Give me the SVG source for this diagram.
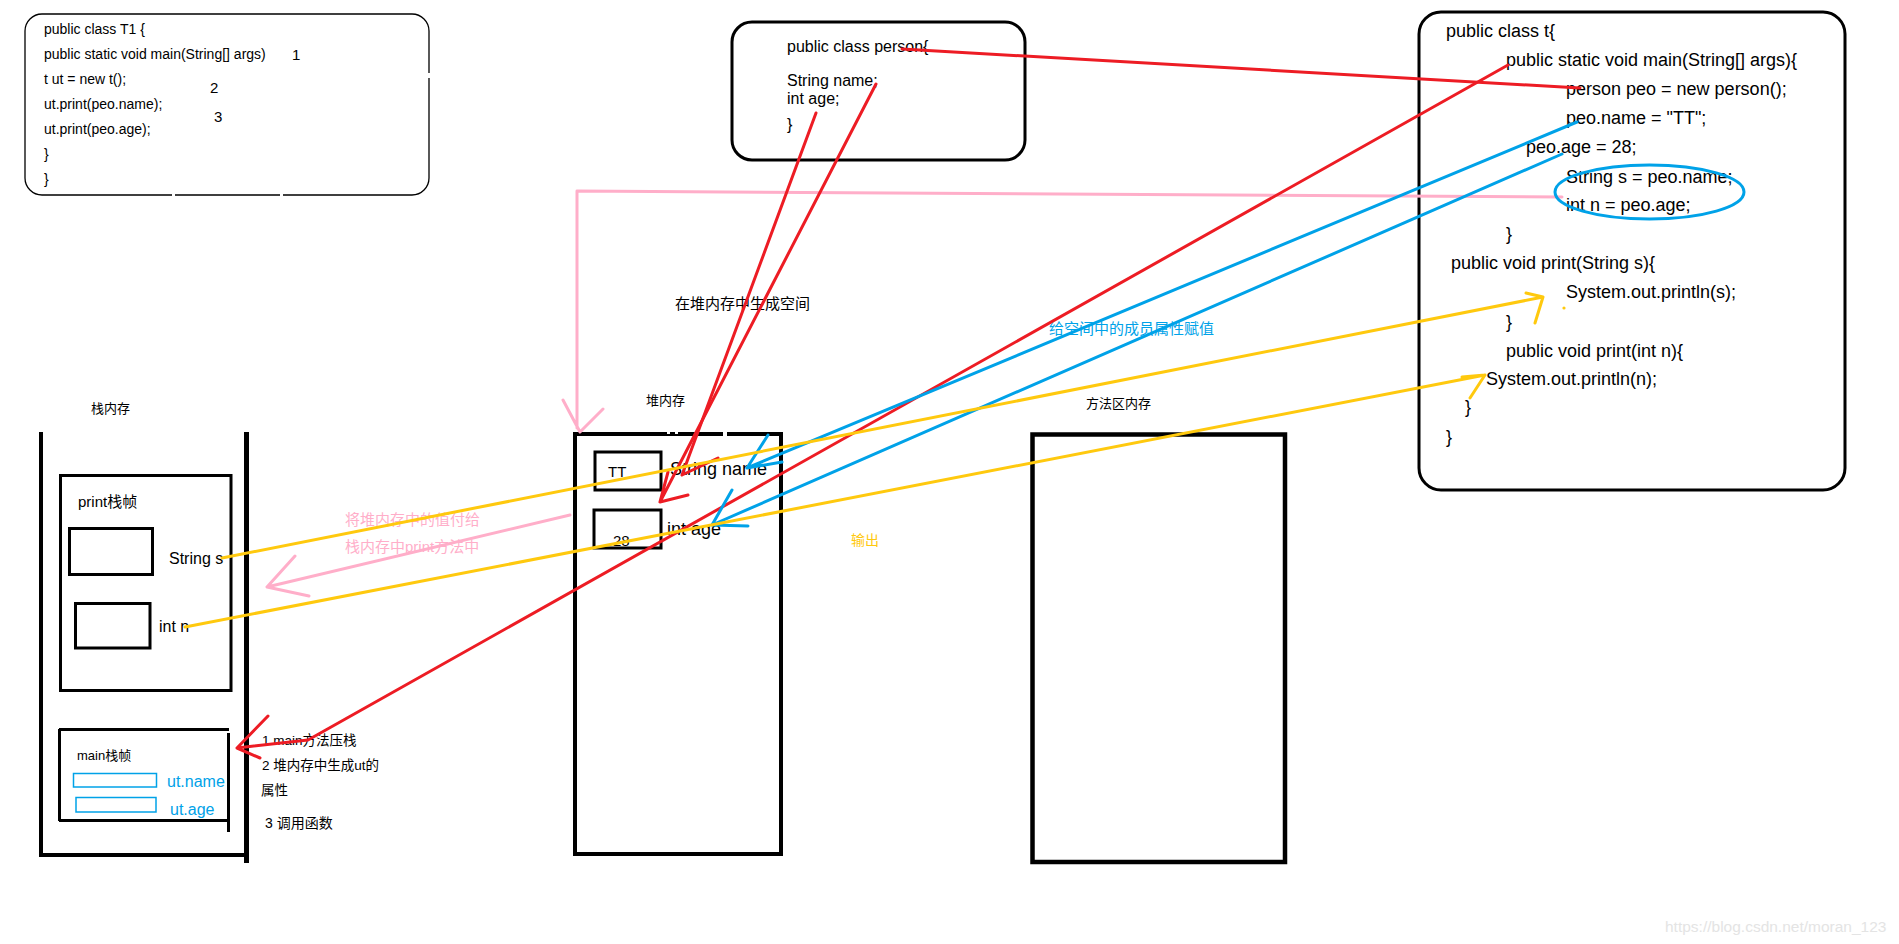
<svg xmlns="http://www.w3.org/2000/svg" width="1899" height="944" viewBox="0 0 1899 944">
<style>
.t{font-family:"Liberation Sans","Noto Sans CJK SC",sans-serif;fill:#000}
.box{fill:none;stroke:#000}
.gap{fill:#fff}
.red{fill:none;stroke:#ED1C24;stroke-width:3;stroke-linecap:round;stroke-linejoin:round}
.blue{fill:none;stroke:#00A2E8;stroke-width:3;stroke-linecap:round;stroke-linejoin:round}
.yel{fill:none;stroke:#FFC90E;stroke-width:3;stroke-linecap:round;stroke-linejoin:round}
.pink{fill:none;stroke:#FFAEC9;stroke-width:3;stroke-linecap:round;stroke-linejoin:round}
</style>
<rect width="1899" height="944" fill="#fff"/>

<g id="t1-code">
<rect class="box" x="25" y="14" width="404" height="181" rx="17" stroke-width="1.3"/>
<rect class="gap" x="172" y="192" width="3" height="6"/>
<rect class="gap" x="280" y="192" width="3" height="6"/>
<rect class="gap" x="426" y="73" width="6" height="5"/>
<g class="t" font-size="14">
<text x="44" y="34">public class T1 {</text>
<text x="44" y="59">public static void main(String[] args)</text>
<text x="44" y="84">t ut = new t();</text>
<text x="44" y="109">ut.print(peo.name);</text>
<text x="44" y="134">ut.print(peo.age);</text>
<text x="44" y="159">}</text>
<text x="44" y="184">}</text>
</g>
<g class="t" font-size="15">
<text x="292" y="60">1</text>
<text x="210" y="93">2</text>
<text x="214" y="122">3</text>
</g>
</g>

<g id="person-class">
<rect class="box" x="732" y="22" width="293" height="138" rx="20" stroke-width="3"/>
<g class="t" font-size="16">
<text x="787" y="52">public class person{</text>
<text x="787" y="86">String name;</text>
<text x="787" y="104">int age;</text>
<text x="787" y="130">}</text>
</g>
</g>

<g id="t-class">
<rect class="box" x="1419" y="12" width="426" height="478" rx="22" stroke-width="3"/>
<g class="t" font-size="18">
<text x="1446" y="37">public class t{</text>
<text x="1506" y="66">public static void main(String[] args){</text>
<text x="1566" y="95">person peo = new person();</text>
<text x="1566" y="124">peo.name = "TT";</text>
<text x="1526" y="153">peo.age = 28;</text>
<text x="1566" y="183">String s = peo.name;</text>
<text x="1566" y="211">int n = peo.age;</text>
<text x="1506" y="240">}</text>
<text x="1451" y="269">public void print(String s){</text>
<text x="1566" y="298">System.out.println(s);</text>
<text x="1506" y="328">}</text>
<text x="1506" y="357">public void print(int n){</text>
<text x="1486" y="385">System.out.println(n);</text>
<text x="1465" y="413">}</text>
<text x="1446" y="443">}</text>
</g>
</g>

<g id="stack">
<text class="t" x="91" y="413" font-size="13">栈内存</text>
<path class="box" stroke-width="4" d="M41,432 V857 M40,855 H249"/>
<path class="box" stroke-width="5" d="M246.5,432 V863"/>
<g id="print-frame">
<rect class="box" x="60.5" y="475.5" width="170.5" height="215" stroke-width="3"/>
<text class="t" x="78" y="507" font-size="15">print栈帧</text>
<rect class="box" x="69.5" y="528.5" width="83" height="46" stroke-width="3"/>
<text class="t" x="169" y="564" font-size="16">String s</text>
<rect class="box" x="75.5" y="603.5" width="74.5" height="44.5" stroke-width="3"/>
<text class="t" x="159" y="632" font-size="16">int n</text>
</g>
<g id="main-frame">
<text class="t" x="77" y="760" font-size="13">main栈帧</text>
<rect x="73.5" y="773.5" width="83" height="13.5" fill="none" stroke="#00A2E8" stroke-width="1.5"/>
<rect x="76" y="797.5" width="80" height="14.5" fill="none" stroke="#00A2E8" stroke-width="1.5"/>
<text x="167" y="787" font-size="16" fill="#00A2E8" font-family="Liberation Sans, sans-serif">ut.name</text>
<text x="170" y="815" font-size="16" fill="#00A2E8" font-family="Liberation Sans, sans-serif">ut.age</text>
<path class="box" stroke-width="3" d="M59,729.5 H229 M59.5,729 V821 M59,820.5 H229 M228.5,733 V832"/>
</g>
<g class="t" font-size="13.5">
<text x="262" y="745">1  main方法压栈</text>
<text x="262" y="770">2  堆内存中生成ut的</text>
<text x="261" y="795">属性</text>
<text x="265" y="828" font-size="14">3 调用函数</text>
</g>
</g>

<g id="heap">
<text class="t" x="646" y="405" font-size="13">堆内存</text>
<text class="t" x="608" y="477" font-size="15">TT</text>
<text class="t" x="670" y="475" font-size="18">String name</text>
<text class="t" x="613" y="546" font-size="15">28</text>
<text class="t" x="667" y="535" font-size="18">int age</text>
<rect class="box" x="575" y="434" width="206" height="420" stroke-width="4"/>
<rect class="gap" x="667" y="431" width="3" height="3"/>
<rect class="gap" x="675" y="431" width="3" height="3"/>
<rect class="gap" x="723" y="431" width="4" height="6"/>
<rect class="box" x="595" y="452" width="66" height="38" stroke-width="3"/>
<rect class="box" x="594" y="510" width="67" height="38" stroke-width="3"/>
</g>

<g id="method-area">
<text class="t" x="1086" y="408" font-size="13">方法区内存</text>
<rect class="box" x="1032.5" y="434.5" width="252.5" height="427.5" stroke-width="4.5"/>
</g>

<g id="labels">
<text class="t" x="675" y="309" font-size="15">在堆内存中生成空间</text>
<text class="t" x="1049" y="334" font-size="15" style="fill:#00A2E8">给空间中的成员属性赋值</text>
<text class="t" x="851" y="545" font-size="14" style="fill:#FFC90E">输出</text>
<text class="t" x="345" y="525" font-size="15" style="fill:#FFAEC9">将堆内存中的值付给</text>
<text class="t" x="345" y="552" font-size="15" style="fill:#FFAEC9">栈内存中print方法中</text>
<text x="1665" y="932" font-size="15.5" fill="#e4e4e4" font-family="Liberation Sans, sans-serif">https://blog.csdn.net/moran_123</text>
</g>

<g id="connectors">
<path class="pink" d="M1562,197 L577,191 L577,428 M563,400 L580,432 L603,409"/>
<path class="pink" d="M570,515 L267,587 M295,556 L267,587 L309,596"/>
<path class="red" d="M902,49 L1580,88"/>
<path class="red" d="M876,84 L660,502 M688,495 L660,502 L668,472"/>
<path class="red" d="M816,113 L682,475 M718,458 L682,475"/>
<path class="red" d="M1508,65 L308,740 L237,748 M268,716 L237,748 L260,758"/>
<path class="blue" d="M1577,122 L747,468 M768,435 L747,468 L782,462"/>
<path class="blue" d="M1562,154 L712,525 M732,490 L712,525 L748,526"/>
<ellipse class="blue" cx="1649.5" cy="192" rx="94.5" ry="27"/>
<path class="yel" d="M222,558 L1543,297 M1526,293 L1543,297 L1535,323"/>
<path class="yel" d="M185,627 L1485,375 M1462,377 L1485,375 L1470,398"/>
<circle cx="1564" cy="308" r="1.6" fill="#FFC90E"/>
</g>
</svg>
